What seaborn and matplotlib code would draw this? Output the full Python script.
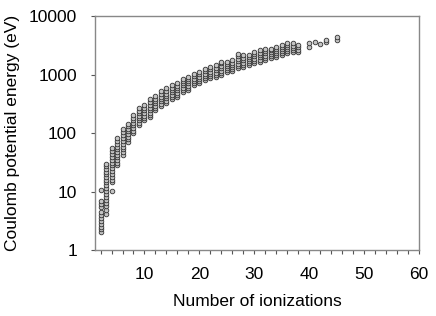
import pandas as pd
import matplotlib
matplotlib.use("Agg")
import matplotlib.pyplot as plt
import seaborn as sns
from matplotlib.ticker import FixedLocator, NullLocator

sns.set_style("white")
plt.rcParams["font.family"] = ["Liberation Sans", "DejaVu Sans"]
plt.rcParams["text.color"] = "black"
plt.rcParams["axes.labelcolor"] = "black"
plt.rcParams["xtick.labelcolor"] = "black"
plt.rcParams["ytick.labelcolor"] = "black"

# ----- DATA -----
# one entry per point: number of ionizations and its Coulomb potential energy (eV)
n_2 = [2.0, 2.25, 2.5, 2.8, 3.1, 3.5, 3.9, 4.4, 5.4, 6.1, 7.0, 10.5]
n_3 = [4.2, 4.9, 5.6, 6.3, 7.1, 8.0, 9.0, 10.2, 11.5, 13, 14.5, 16, 18, 20, 22, 24.5, 27, 30]
n_4 = [10.1, 14.4, 16, 18, 20, 22.5, 25, 28, 31, 35, 39, 44, 49, 55]
n_5 = [28, 31, 35, 39, 43, 48, 53, 59, 66, 73, 82]
n_6 = [43, 48, 53, 59, 66, 74, 83, 93, 105, 120]
n_7 = [70, 78, 87, 97, 108, 120, 133, 145]
n_8 = [100, 111, 123, 136, 150, 166, 184, 203]
n_9 = [137, 150, 165, 182, 200, 220, 242, 267]
n_10 = [166, 182, 200, 220, 245, 270, 300]
n_11 = [187, 205, 225, 250, 275, 305, 340, 380]
n_12 = [247, 270, 297, 325, 357, 392, 430]
n_13 = [289, 318, 350, 385, 425, 470, 520]
n_14 = [326, 358, 393, 432, 475, 530, 590]
n_15 = [381, 418, 460, 505, 550, 605, 663]
n_16 = [413, 453, 497, 545, 598, 655, 718]
n_17 = [503, 550, 603, 660, 720, 780, 841]
n_18 = [544, 595, 650, 710, 775, 840, 910]
n_19 = [663, 720, 785, 860, 940, 1020]
n_20 = [718, 780, 850, 930, 1015, 1110]
n_21 = [808, 880, 960, 1050, 1145, 1250]
n_22 = [875, 955, 1040, 1135, 1240, 1350]
n_23 = [910, 995, 1090, 1200, 1320, 1460]
n_24 = [985, 1080, 1185, 1300, 1430, 1570, 1645]
n_25 = [1110, 1200, 1300, 1400, 1520, 1645]
n_26 = [1155, 1250, 1355, 1470, 1600, 1780]
n_27 = [1300, 1420, 1560, 1720, 1890, 2060, 2255]
n_28 = [1370, 1490, 1620, 1760, 1920, 2170]
n_29 = [1460, 1580, 1710, 1850, 2000, 2170]
n_30 = [1600, 1740, 1890, 2060, 2250, 2470]
n_31 = [1665, 1820, 1990, 2170, 2380, 2640]
n_32 = [1780, 1950, 2130, 2330, 2560, 2820]
n_33 = [1905, 2080, 2270, 2480, 2650, 2820]
n_34 = [1980, 2160, 2360, 2580, 2800, 3010]
n_35 = [2170, 2370, 2580, 2800, 3000, 3220]
n_36 = [2320, 2520, 2750, 3000, 3250, 3520]
n_37 = [2470, 2680, 2900, 3150, 3440]
n_38 = [2470, 2700, 2950, 3220]
n_40 = [3050, 3450]
n_41 = [3580]
n_42 = [3350]
n_43 = [3650, 4000]
n_45 = [3950, 4450]

columns = {2: n_2, 3: n_3, 4: n_4, 5: n_5, 6: n_6, 7: n_7, 8: n_8, 9: n_9,
           10: n_10, 11: n_11, 12: n_12, 13: n_13, 14: n_14, 15: n_15,
           16: n_16, 17: n_17, 18: n_18, 19: n_19, 20: n_20, 21: n_21,
           22: n_22, 23: n_23, 24: n_24, 25: n_25, 26: n_26, 27: n_27,
           28: n_28, 29: n_29, 30: n_30, 31: n_31, 32: n_32, 33: n_33,
           34: n_34, 35: n_35, 36: n_36, 37: n_37, 38: n_38, 40: n_40,
           41: n_41, 42: n_42, 43: n_43, 45: n_45}

y_ticks = [1, 10, 100, 1000, 10000]
x_ticks = [10, 20, 30, 40, 50, 60]

rows = [(n, e) for n, vals in columns.items() for e in vals]
df = pd.DataFrame(rows, columns=["ionizations", "energy"])

# ----- PLOT -----
fig, ax = plt.subplots(figsize=(4.36, 3.16), dpi=100)
fig.subplots_adjust(left=0.218, right=0.961, top=0.948, bottom=0.209)

sns.scatterplot(data=df, x="ionizations", y="energy", ax=ax,
                marker="o", s=11, facecolor="#c4c4c4", edgecolor="#333333",
                linewidth=0.6, legend=False)

ax.set_yscale("log")
ax.set_ylim(1, 10000)
ax.set_xlim(1, 60)
ax.yaxis.set_major_locator(FixedLocator(y_ticks))
ax.yaxis.set_minor_locator(NullLocator())
ax.set_yticklabels([str(t) for t in y_ticks])
ax.xaxis.set_major_locator(FixedLocator(x_ticks))
ax.xaxis.set_minor_locator(FixedLocator([t for t in range(2, 60, 2) if t % 10]))

for s in ax.spines.values():
    s.set_color("#888888")
    s.set_linewidth(1.0)
ax.tick_params(which="both", direction="out", color="#555555", width=0.8,
               labelsize=12.5, length=3, bottom=True, left=True)
ax.tick_params(axis="y", pad=10)
ax.tick_params(axis="x", pad=9)

ax.set_xlabel("Number of ionizations", fontsize=12.5, labelpad=9)
ax.set_ylabel("Coulomb potential energy (eV)", fontsize=12.5, labelpad=6)

plt.savefig("out.png", dpi=100)
